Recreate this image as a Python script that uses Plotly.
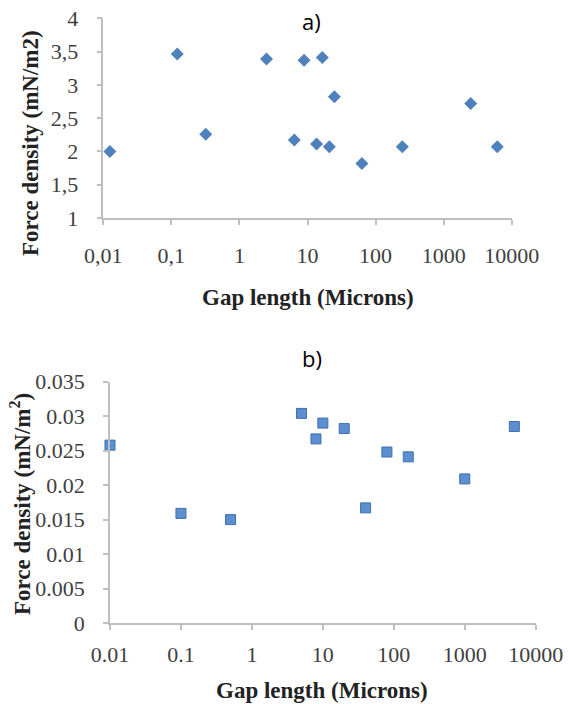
import plotly.graph_objects as go

W, H = 568, 704

# panel a) data
gap_a = [0.0125, 0.122, 0.32, 2.5, 6.4, 8.9, 13.6, 16.5, 20.9, 24.8, 63, 247, 2500, 6140]
force_a = [2.0, 3.465, 2.26, 3.39, 2.17, 3.37, 2.11, 3.41, 2.07, 2.82, 1.82, 2.07, 2.72, 2.07]

# panel b) data
gap_b = [0.01, 0.1, 0.5, 5, 8, 10, 20, 40, 80, 160, 1000, 5000]
force_b = [0.0258, 0.0159, 0.0150, 0.0304, 0.0267, 0.0290, 0.0282, 0.0167,
           0.0248, 0.0241, 0.0209, 0.0285]

x_ticks = [0.01, 0.1, 1, 10, 100, 1000, 10000]
x_text_a = ["0,01", "0,1", "1", "10", "100", "1000", "10000"]
x_text_b = ["0.01", "0.1", "1", "10", "100", "1000", "10000"]
y_ticks_a = [1, 1.5, 2, 2.5, 3, 3.5, 4]
y_text_a = ["1", "1,5", "2", "2,5", "3", "3,5", "4"]
y_ticks_b = [0, 0.005, 0.01, 0.015, 0.02, 0.025, 0.03, 0.035]
y_text_b = ["0", "0.005", "0.01", "0.015", "0.02", "0.025", "0.03", "0.035"]

BLUE = "#4f81bd"
AXIS = "#bfbfbf"
TICK_INK = "#404040"
SERIF = "Liberation Serif"


def px_x(p):
    return p / W


def px_y(p):
    return 1 - p / H


fig = go.Figure()
fig.add_trace(go.Scatter(
    x=gap_a, y=force_a, mode="markers", xaxis="x", yaxis="y", cliponaxis=False,
    marker=dict(symbol="diamond", size=10, color=BLUE, line=dict(width=0)),
))
fig.add_trace(go.Scatter(
    x=gap_b, y=force_b, mode="markers", xaxis="x2", yaxis="y2", cliponaxis=False,
    marker=dict(symbol="square", size=10, color="#5b8fd0", line=dict(width=1, color="#3f6fae")),
))

tick_font = dict(family=SERIF, size=22, color=TICK_INK)
common_x = dict(
    type="log", range=[-2, 4], showline=True, linecolor=AXIS, linewidth=1.5,
    ticks="outside", ticklen=5, tickcolor=AXIS, tickwidth=1.5, showgrid=False,
    zeroline=False, automargin=False, tickfont=tick_font,
)
common_y = dict(
    showline=True, linecolor=AXIS, linewidth=1.5, ticks="outside", ticklen=5,
    tickcolor=AXIS, tickwidth=1.5, showgrid=False, zeroline=False, automargin=False,
    tickfont=tick_font,
)

fig.update_layout(
    width=W, height=H,
    margin=dict(l=0, r=0, t=0, b=0, autoexpand=False),
    paper_bgcolor="white", plot_bgcolor="white",
    showlegend=False,
    font=dict(family=SERIF),
    xaxis=dict(common_x, domain=[px_x(103.3), px_x(511.7)], anchor="y",
               tickvals=x_ticks, ticktext=x_text_a, ticklabelstandoff=12),
    yaxis=dict(common_y, domain=[px_y(218), px_y(18.3)], anchor="x",
               range=[1, 4], tickvals=y_ticks_a, ticktext=y_text_a, ticklabelstandoff=14),
    xaxis2=dict(common_x, domain=[px_x(110), px_x(535.7)], anchor="y2",
                tickvals=x_ticks, ticktext=x_text_b, ticklabelstandoff=6),
    yaxis2=dict(common_y, domain=[px_y(623), px_y(381.7)], anchor="x2",
                range=[0, 0.035], tickvals=y_ticks_b, ticktext=y_text_b, ticklabelstandoff=14),
)

title_font = dict(family=SERIF, size=23, color="#222222")
label_font = dict(family="Open Sans", size=22, color="black")
notes = [
    ("<b>Force density (mN/m2)</b>", 30, 143, -90, title_font),
    ("<b>Force density (mN/m<sup>2</sup>)</b>", 20, 504, -90, title_font),
    ("<b>Gap length (Microns)</b>", 307.5, 297, 0, title_font),
    ("<b>Gap length (Microns)</b>", 322, 690, 0, title_font),
    ("a)", 311, 21, 0, label_font),
    ("b)", 312, 358, 0, label_font),
]
for text, x, y, angle, font in notes:
    fig.add_annotation(text=text, x=px_x(x), y=px_y(y), xref="paper", yref="paper",
                       xanchor="center", yanchor="middle", showarrow=False,
                       textangle=angle, font=font)

# the page's default body margin would push the figure 8px down and right
fig.write_html("out.html", config=dict(displayModeBar=False),
               post_script="document.body.style.margin='0';")
